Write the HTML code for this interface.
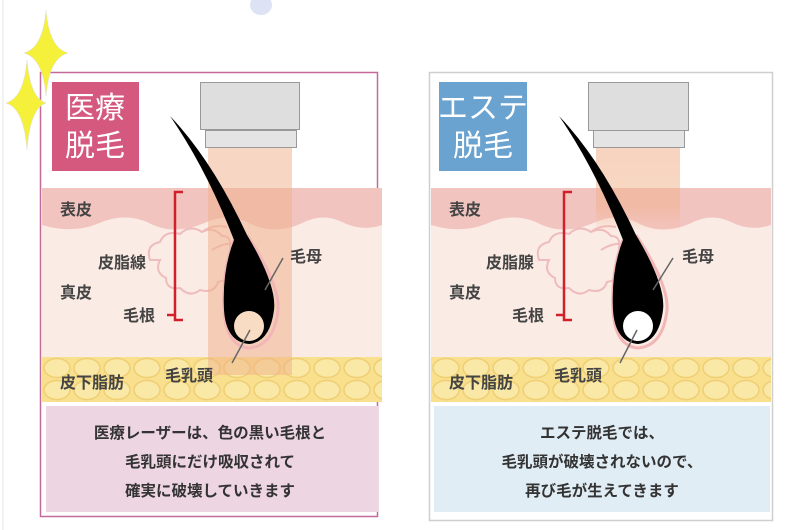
<!DOCTYPE html>
<html><head><meta charset="utf-8"><style>
body{margin:0;width:800px;height:530px;background:#fff;overflow:hidden;font-family:"Liberation Sans","Noto Sans CJK JP",sans-serif}
svg{position:absolute;left:0;top:0}
</style></head><body>
<svg width="800" height="530" viewBox="0 0 800 530" font-family="Liberation Sans, Noto Sans CJK JP, sans-serif">
<defs>
<pattern id="fat" x="0" y="357" width="30" height="22" patternUnits="userSpaceOnUse">
<rect width="30" height="22" fill="#f8e08e"/>
<ellipse cx="15" cy="11" rx="13" ry="9.5" fill="#f9e8a6" stroke="#f0cf74" stroke-width="1.5"/>
</pattern>
<linearGradient id="fade" x1="0" y1="0" x2="0" y2="1">
<stop offset="0" stop-color="#f0b08a" stop-opacity="0.55"/>
<stop offset="0.7" stop-color="#f0b08a" stop-opacity="0.5"/>
<stop offset="1" stop-color="#f0b08a" stop-opacity="0"/>
</linearGradient>
<g id="art">
<rect x="0" y="188" width="340" height="170" fill="#fbebe5"/>
<path d="M0,188 H340 V225 Q320,232 300,222 Q280,212 258,224 Q230,236 205,222 Q185,212 160,224 Q130,236 105,222 Q80,212 55,224 Q30,234 0,225Z" fill="#f2c4c0"/>
<rect x="0" y="357" width="340" height="45" fill="url(#fat)"/>
<path d="M108,260 q-5,-15 10,-18 q5,-12 20,-8 q10,-10 22,-2 q12,-6 20,4 q10,0 8,12 q8,10 -2,18 q4,14 -10,16 q-4,12 -18,8 q-10,8 -20,-2 q-14,2 -14,-10 q-12,-6 -6,-18z M160,232 q10,-8 25,-5 M170,250 q12,-8 25,-6" fill="none" stroke="#eebcbc" stroke-width="2"/>
<path d="M141,192 h-8 v128 h8 M133,315 h-8" fill="none" stroke="#d2202a" stroke-width="2.5"/>
</g>
<g id="hair">
<path d="M192,240 Q180,270 182,310 Q184,346 207,348 Q232,346 236,310 Q238,285 205,235" fill="none" stroke="#f2b6b6" stroke-width="3"/>
<path d="M128,116 Q170,160 205,235 Q235,285 232,310 Q228,342 207,344 Q184,342 182,310 Q180,270 192,240 Q165,170 128,116Z" fill="#000"/>
</g>
</defs>
<!-- panels -->
<rect x="40.5" y="72.5" width="337" height="444" fill="#fff" stroke="#c46a9a" stroke-width="1.5"/>
<rect x="429.5" y="72.5" width="343" height="448" fill="#fff" stroke="#cfcfcf" stroke-width="1.5"/>
<use href="#art" x="42"/>
<use href="#art" x="431"/>
<!-- laser columns -->
<rect x="208" y="147" width="84" height="228" fill="#f0b08a" opacity="0.5"/>
<rect x="596" y="147" width="84" height="85" fill="url(#fade)"/>
<use href="#hair" x="42"/>
<use href="#hair" x="431"/>
<circle cx="249" cy="326" r="15" fill="#f8dcc4"/>
<circle cx="638" cy="326" r="15" fill="#fff"/>
<!-- devices -->
<rect x="200.5" y="82.5" width="99" height="47" fill="#dedede" stroke="#999"/>
<rect x="205.5" y="130.5" width="91" height="17" fill="#e4e4e4" stroke="#999"/>
<rect x="588.5" y="82.5" width="100" height="48" fill="#dedede" stroke="#999"/>
<rect x="593.5" y="130.5" width="91" height="17" fill="#e4e4e4" stroke="#999"/>
<!-- label boxes -->
<rect x="52" y="82" width="87" height="89" fill="#d5587f"/>
<text x="95" y="118" font-size="30" fill="#fff" text-anchor="middle">医療</text>
<text x="95" y="156" font-size="30" fill="#fff" text-anchor="middle">脱毛</text>
<rect x="439" y="82" width="88" height="89" fill="#6aa3d0"/>
<text x="483" y="118" font-size="30" fill="#fff" text-anchor="middle">エステ</text>
<text x="483" y="156" font-size="30" fill="#fff" text-anchor="middle">脱毛</text>
<!-- pointer lines -->
<path d="M265,290 L283,258 M232,363 L250,330" stroke="#666" stroke-width="1.5"/>
<path d="M653,290 L673,258 M620,363 L637,330" stroke="#666" stroke-width="1.5"/>
<g font-size="16" fill="#444" font-weight="bold">
<text x="60" y="215">表皮</text><text x="98" y="268">皮脂線</text><text x="60" y="298">真皮</text><text x="123" y="321">毛根</text><text x="290" y="262">毛母</text><text x="165" y="381">毛乳頭</text><text x="60" y="388">皮下脂肪</text>
<text x="449" y="215">表皮</text><text x="486" y="268">皮脂腺</text><text x="449" y="298">真皮</text><text x="512" y="321">毛根</text><text x="682" y="262">毛母</text><text x="554" y="381">毛乳頭</text><text x="449" y="388">皮下脂肪</text>
</g>
<!-- text boxes -->
<rect x="46" y="406" width="332" height="106" fill="#eed5e2"/>
<rect x="434" y="406" width="336" height="106" fill="#e1edf5"/>
<g font-size="15.5" fill="#333" text-anchor="middle" font-weight="bold">
<text x="210" y="438">医療レーザーは、色の黒い毛根と</text>
<text x="210" y="467">毛乳頭にだけ吸収されて</text>
<text x="210" y="496">確実に破壊していきます</text>
<text x="602" y="438">エステ脱毛では、</text>
<text x="602" y="467">毛乳頭が破壊されないので、</text>
<text x="602" y="496">再び毛が生えてきます</text>
</g>
<!-- sparkles -->
<path d="M46,10 Q49,48 68,53 Q49,58 46,96 Q43,58 24,53 Q43,48 46,10Z" fill="#f5f03a" stroke="#ddd" stroke-width="0.5"/>
<path d="M27,60 Q30,98 46,103 Q30,108 27,150 Q24,108 6,103 Q24,98 27,60Z" fill="#f5f03a" stroke="#ddd" stroke-width="0.5"/>
<ellipse cx="261" cy="5" rx="11" ry="10" fill="#dde2f4"/>
<line x1="3" y1="0" x2="3" y2="530" stroke="#e6e6e6"/>
</svg>
</body></html>
